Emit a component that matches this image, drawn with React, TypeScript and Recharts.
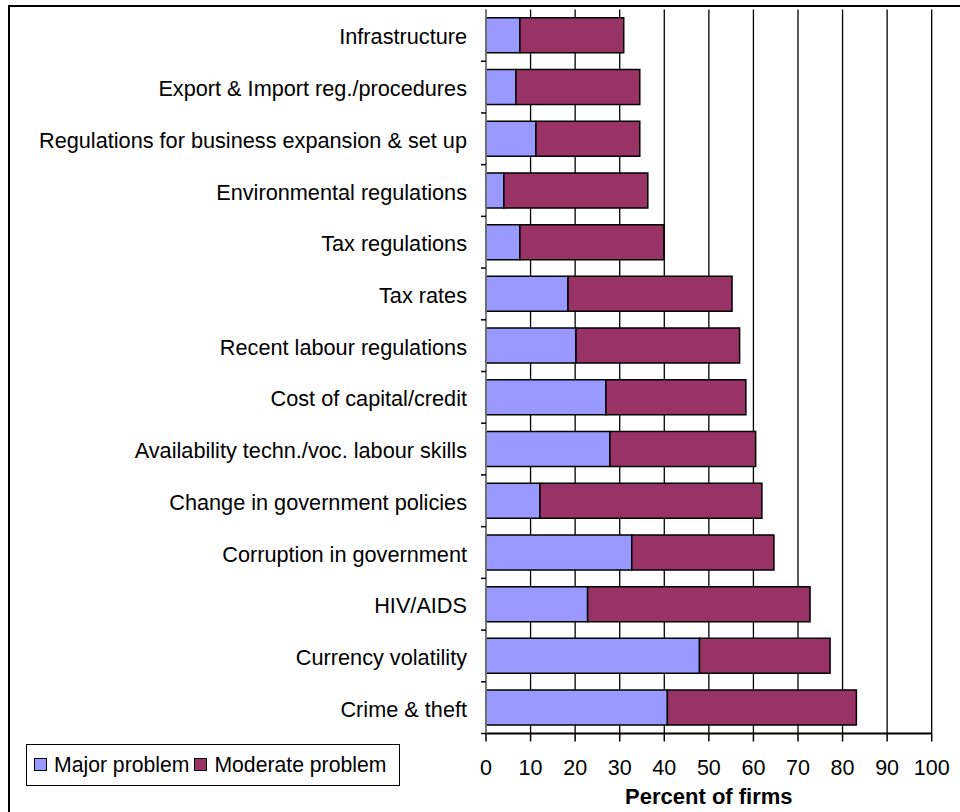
import {
  BarChart, Bar, XAxis, YAxis, CartesianGrid,
} from 'recharts';

const categories = [
  'Infrastructure',
  'Export & Import reg./procedures',
  'Regulations for business expansion & set up',
  'Environmental regulations',
  'Tax regulations',
  'Tax rates',
  'Recent labour regulations',
  'Cost of capital/credit',
  'Availability techn./voc. labour skills',
  'Change in government policies',
  'Corruption in government',
  'HIV/AIDS',
  'Currency volatility',
  'Crime & theft',
];

const majorProblem = [7.6, 6.7, 11.2, 4.0, 7.6, 18.4, 20.2, 26.9, 27.8, 12.1, 32.7, 22.8, 47.9, 40.7];
const moderateProblem = [23.3, 27.8, 23.3, 32.3, 32.3, 36.8, 36.7, 31.4, 32.7, 49.8, 31.9, 49.9, 29.3, 42.4];
const xTicks = [0, 10, 20, 30, 40, 50, 60, 70, 80, 90, 100];

const MAJOR = '#9999FF';
const MODERATE = '#993366';
const FONT = '"Liberation Sans", Arial, sans-serif';

const data = categories.map((name, i) => ({
  name,
  major: majorProblem[i],
  moderate: moderateProblem[i],
}));

// plot area: top 9.5, bottom 733.5 -> band height
const PLOT_TOP = 9.5;
const PLOT_BOTTOM = 733.5;
const BAND = (PLOT_BOTTOM - PLOT_TOP) / categories.length;

function CategoryTick(props: any) {
  const { x, y, payload } = props;
  // x is axis line minus tickSize+tickMargin (8)
  const axisX = x + 8;
  return (
    <g>
      <line x1={axisX - 5} x2={axisX} y1={y + BAND / 2} y2={y + BAND / 2} stroke="#000" strokeWidth={1.5} />
      <text x={axisX - 19} y={y} dy="0.42em" textAnchor="end" fontFamily={FONT} fontSize={21.7} fill="#000">
        {payload.value}
      </text>
    </g>
  );
}

function LegendSwatch({ color }: { color: string }) {
  return (
    <span style={{
      display: 'inline-block', width: 11, height: 11, background: color,
      border: '1.5px solid #000', marginRight: 7, verticalAlign: 'middle', position: 'relative', top: -1,
    }} />
  );
}

export default function App() {
  return (
    <div style={{ position: 'absolute', left: 0, top: 0, width: 960, height: 812, fontFamily: FONT }}>
      <div style={{
        position: 'absolute', left: 8, top: 5, width: 952, height: 807,
        borderLeft: '2px solid #000', borderTop: '2px solid #000', boxSizing: 'border-box',
      }} />
      <div style={{ position: 'absolute', left: 0, top: 0 }}>
        <BarChart
          width={960}
          height={812}
          data={data}
          layout="vertical"
          barCategoryGap="16%"
          margin={{ top: PLOT_TOP, right: 28.3, bottom: 812 - PLOT_BOTTOM - 75, left: 0 }}
        >
          <CartesianGrid horizontal={false} vertical stroke="#000" strokeWidth={1.3} />
          <XAxis
            xAxisId="top"
            orientation="top"
            type="number"
            domain={[0, 100]}
            height={0}
            tick={false}
            tickLine={false}
            axisLine={{ stroke: '#000', strokeWidth: 1.5 }}
          />
          <XAxis
            type="number"
            domain={[0, 100]}
            ticks={xTicks}
            interval={0}
            height={75}
            tickSize={8}
            tickMargin={18.5}
            axisLine={{ stroke: '#000', strokeWidth: 2 }}
            tickLine={{ stroke: '#000', strokeWidth: 1.5 }}
            tick={{ fill: '#000', fontSize: 21.5, fontFamily: FONT }}
            label={{
              value: 'Percent of firms', position: 'insideBottom', offset: 4.5,
              fill: '#000', fontSize: 22, fontWeight: 'bold', fontFamily: FONT,
            }}
          />
          <YAxis
            type="category"
            dataKey="name"
            width={486}
            interval={0}
            axisLine={{ stroke: '#888', strokeWidth: 1.5 }}
            tickLine={false}
            tick={<CategoryTick />}
          />
          <Bar dataKey="major" stackId="a" fill={MAJOR} stroke="#000" strokeWidth={1.5} isAnimationActive={false} />
          <Bar dataKey="moderate" stackId="a" fill={MODERATE} stroke="#000" strokeWidth={1.5} isAnimationActive={false} />
        </BarChart>
      </div>
      <div style={{
        position: 'absolute', left: 26, top: 744, width: 374, height: 42, boxSizing: 'border-box',
        border: '1.5px solid #000', background: '#fff', fontSize: 21.2, color: '#000',
        display: 'flex', alignItems: 'center', paddingLeft: 7, whiteSpace: 'nowrap',
      }}>
        <LegendSwatch color={MAJOR} />
        <span style={{ marginRight: 5 }}>Major problem</span>
        <LegendSwatch color={MODERATE} />
        <span>Moderate problem</span>
      </div>
    </div>
  );
}
